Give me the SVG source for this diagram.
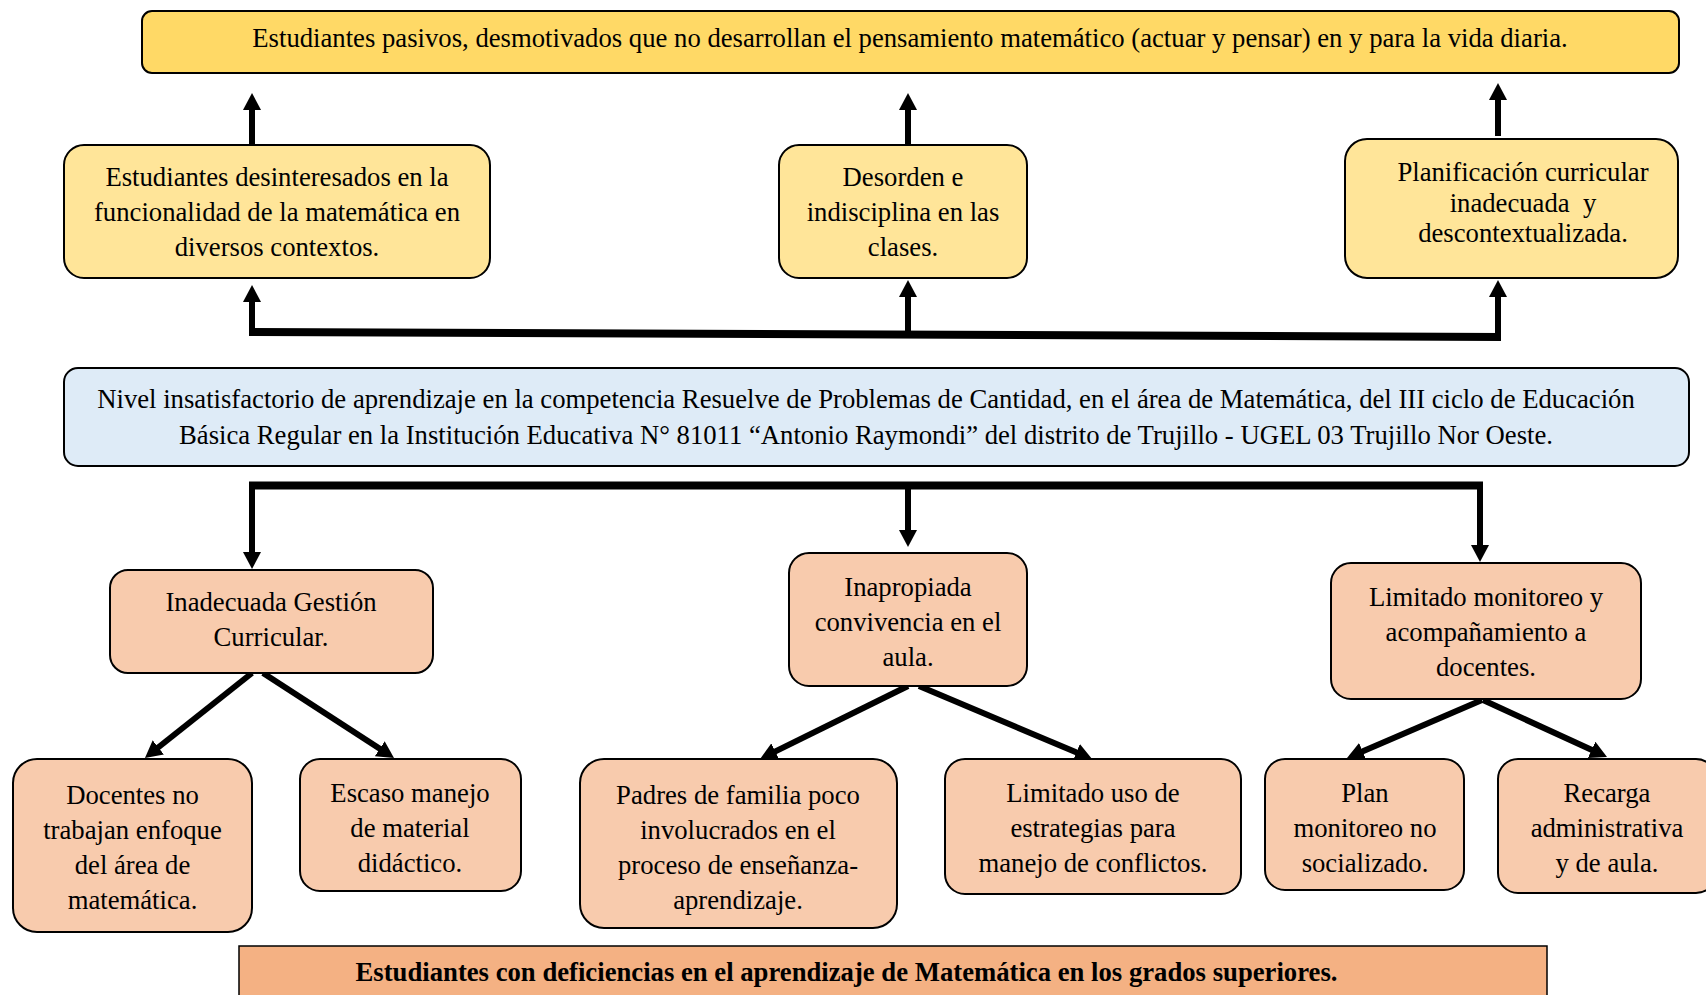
<svg xmlns="http://www.w3.org/2000/svg" width="1706" height="995" viewBox="0 0 1706 995">
<style>
text{font-family:"Liberation Serif","Times New Roman",serif;font-size:26.7px;fill:#000;text-anchor:middle}
.b{stroke:#000;stroke-width:2}
.y1{fill:#FFD966}
.y2{fill:#FFE599}
.bl{fill:#DEEBF7}
.o1{fill:#F8CBAD}
.c{stroke:#000;stroke-width:6;fill:none;stroke-linecap:butt}
.bar{stroke:#000;stroke-width:8;fill:none;stroke-linecap:butt}
.bold{font-weight:bold}
</style>
<defs>
<marker id="ah" viewBox="0 0 17 18" markerWidth="17" markerHeight="18" markerUnits="userSpaceOnUse" refX="1" refY="9" orient="auto">
<path d="M0,0 L17,9 L0,18 z" fill="#000"/>
</marker>
</defs>

<g id="connectors">
<line class="bar" x1="249" y1="332" x2="1501" y2="337"/>
<line class="c" x1="252" y1="145" x2="252" y2="109" marker-end="url(#ah)"/>
<line class="c" x1="908" y1="145" x2="908" y2="109" marker-end="url(#ah)"/>
<line class="c" x1="1498" y1="136" x2="1498" y2="99" marker-end="url(#ah)"/>
<line class="c" x1="252" y1="336" x2="252" y2="301" marker-end="url(#ah)"/>
<line class="c" x1="908" y1="336" x2="908" y2="296" marker-end="url(#ah)"/>
<line class="c" x1="1498" y1="338" x2="1498" y2="296" marker-end="url(#ah)"/>
<line class="bar" x1="249" y1="485.5" x2="1483" y2="485.5"/>
<line class="c" x1="252" y1="482" x2="252" y2="553" marker-end="url(#ah)"/>
<line class="c" x1="1480" y1="482" x2="1480" y2="546" marker-end="url(#ah)"/>
<line class="c" x1="908" y1="486" x2="908" y2="531" marker-end="url(#ah)"/>
<line class="c" x1="252" y1="673" x2="157.5" y2="748" marker-end="url(#ah)"/>
<line class="c" x1="263" y1="673" x2="380.6" y2="749.3" marker-end="url(#ah)"/>
<line class="c" x1="908" y1="686" x2="774.4" y2="751.9" marker-end="url(#ah)"/>
<line class="c" x1="919" y1="686" x2="1077.3" y2="752.8" marker-end="url(#ah)"/>
<line class="c" x1="1482" y1="700" x2="1361.7" y2="751.7" marker-end="url(#ah)"/>
<line class="c" x1="1483" y1="700" x2="1592.5" y2="750.3" marker-end="url(#ah)"/>
</g>

<g id="efecto-final">
<rect class="b y1" x="142" y="11" width="1537" height="62" rx="10"/>
<text x="910" y="47">Estudiantes pasivos, desmotivados que no desarrollan el pensamiento matemático (actuar y pensar) en y para la vida diaria.</text>
</g>

<g id="efecto-1">
<rect class="b y2" x="64" y="145" width="426" height="133" rx="20"/>
<text x="277" y="186">Estudiantes desinteresados en la</text>
<text x="277" y="221">funcionalidad de la matemática en</text>
<text x="277" y="256">diversos contextos.</text>
</g>

<g id="efecto-2">
<rect class="b y2" x="779" y="145" width="248" height="133" rx="20"/>
<text x="903" y="186">Desorden e</text>
<text x="903" y="221">indisciplina en las</text>
<text x="903" y="256">clases.</text>
</g>

<g id="efecto-3">
<rect class="b y2" x="1345" y="139" width="333" height="139" rx="22"/>
<text x="1523" y="181">Planificación curricular</text>
<text x="1523" y="212">inadecuada&#160; y</text>
<text x="1523" y="242">descontextualizada.</text>
</g>

<g id="problema">
<rect class="b bl" x="64" y="368" width="1625" height="98" rx="14"/>
<text x="866" y="408">Nivel insatisfactorio de aprendizaje en la competencia Resuelve de Problemas de Cantidad, en el área de Matemática, del III ciclo de Educación</text>
<text x="866" y="444">Básica Regular en la Institución Educativa N° 81011 “Antonio Raymondi” del distrito de Trujillo - UGEL 03 Trujillo Nor Oeste.</text>
</g>

<g id="causa-1">
<rect class="b o1" x="110" y="570" width="323" height="103" rx="18"/>
<text x="271" y="611">Inadecuada Gestión</text>
<text x="271" y="646">Curricular.</text>
</g>

<g id="causa-2">
<rect class="b o1" x="789" y="553" width="238" height="133" rx="20"/>
<text x="908" y="596">Inapropiada</text>
<text x="908" y="631">convivencia en el</text>
<text x="908" y="666">aula.</text>
</g>

<g id="causa-3">
<rect class="b o1" x="1331" y="563" width="310" height="136" rx="20"/>
<text x="1486" y="606">Limitado monitoreo y</text>
<text x="1486" y="641">acompañamiento a</text>
<text x="1486" y="676">docentes.</text>
</g>

<g id="subcausa-1">
<rect class="b o1" x="13" y="759" width="239" height="173" rx="24"/>
<text x="132.5" y="804">Docentes no</text>
<text x="132.5" y="839">trabajan enfoque</text>
<text x="132.5" y="874">del área de</text>
<text x="132.5" y="909">matemática.</text>
</g>

<g id="subcausa-2">
<rect class="b o1" x="300" y="759" width="221" height="132" rx="20"/>
<text x="410" y="801.5">Escaso manejo</text>
<text x="410" y="836.5">de material</text>
<text x="410" y="871.5">didáctico.</text>
</g>

<g id="subcausa-3">
<rect class="b o1" x="580" y="759" width="317" height="169" rx="24"/>
<text x="738" y="804">Padres de familia poco</text>
<text x="738" y="839">involucrados en el</text>
<text x="738" y="874">proceso de enseñanza-</text>
<text x="738" y="909">aprendizaje.</text>
</g>

<g id="subcausa-4">
<rect class="b o1" x="945" y="759" width="296" height="135" rx="20"/>
<text x="1093" y="802">Limitado uso de</text>
<text x="1093" y="837">estrategias para</text>
<text x="1093" y="872">manejo de conflictos.</text>
</g>

<g id="subcausa-5">
<rect class="b o1" x="1265" y="759" width="199" height="131" rx="20"/>
<text x="1365" y="802">Plan</text>
<text x="1365" y="837">monitoreo no</text>
<text x="1365" y="872">socializado.</text>
</g>

<g id="subcausa-6">
<rect class="b o1" x="1498" y="759" width="218" height="134" rx="20"/>
<text x="1607" y="802">Recarga</text>
<text x="1607" y="837">administrativa</text>
<text x="1607" y="872">y de aula.</text>
</g>

<g id="consecuencia">
<rect x="239" y="946" width="1308" height="60" fill="#F4B183" stroke="#000" stroke-width="1.5"/>
<text class="bold" x="846.5" y="981">Estudiantes con deficiencias en el aprendizaje de Matemática en los grados superiores.</text>
</g>
</svg>
